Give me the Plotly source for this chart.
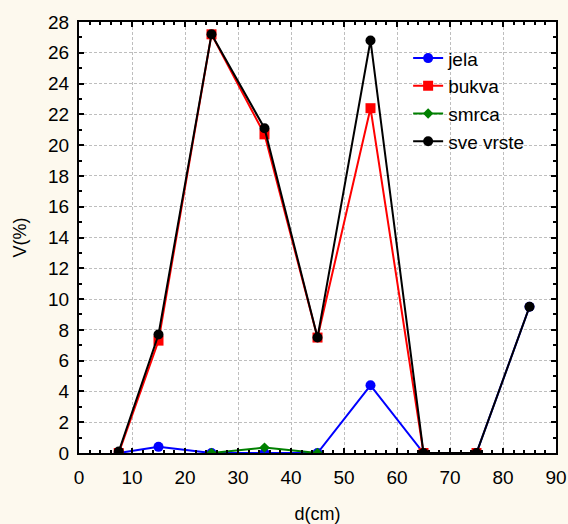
import plotly.graph_objects as go

d_cm = [7.5, 15, 25, 35, 45, 55, 65, 75, 85]
jela = [0.0, 0.4, 0.0, 0.0, 0.0, 4.4, 0.0, 0.0, 9.5]
bukva = [0.0, 7.3, 27.2, 20.7, 7.5, 22.4, 0.0, 0.0, None]
smrca = [None, None, 0.0, 0.35, 0.0, None, None, None, None]
sve_vrste = [0.1, 7.7, 27.2, 21.1, 7.5, 26.8, 0.0, 0.0, 9.5]

x_ticks = [0, 10, 20, 30, 40, 50, 60, 70, 80, 90]
y_ticks = list(range(0, 29, 2))

font = "Liberation Sans, Arial, sans-serif"
fig = go.Figure()
fig.add_trace(go.Scatter(x=d_cm, y=jela, name="jela", mode="lines+markers", legendgroup="a",
                         line=dict(color="#0000FF", width=2),
                         marker=dict(symbol="circle", size=10, color="#0000FF")))
fig.add_trace(go.Scatter(x=d_cm, y=bukva, name="bukva", mode="lines+markers", legendgroup="b",
                         line=dict(color="#FF0000", width=2),
                         marker=dict(symbol="square", size=10, color="#FF0000")))
fig.add_trace(go.Scatter(x=d_cm, y=smrca, name="smrca", mode="lines+markers", legendgroup="c",
                         line=dict(color="#008000", width=2),
                         marker=dict(symbol="diamond", size=8, color="#008000")))
fig.add_trace(go.Scatter(x=d_cm, y=sve_vrste, name="sve vrste", mode="lines+markers", legendgroup="d",
                         line=dict(color="#000000", width=2),
                         marker=dict(symbol="circle", size=10, color="#000000")))

axis_common = dict(
    showline=True, linecolor="black", linewidth=2, mirror="allticks",
    ticks="inside", ticklen=5, tickwidth=2, tickcolor="black",
    showgrid=True, gridcolor="#BEBEBE", griddash="3px,2px", gridwidth=1,
    zeroline=False, automargin=False,
    tickfont=dict(family=font, size=19, color="black"),
)
fig.update_xaxes(range=[0, 90], tickvals=x_ticks, ticklabelstandoff=6,
                 minor=dict(ticks="inside", dtick=2, ticklen=3, tickwidth=2, tickcolor="black", showgrid=False),
                 title=dict(text="d(cm)", font=dict(family=font, size=18, color="black"), standoff=22),
                 **axis_common)
fig.update_yaxes(range=[0, 28], tickvals=y_ticks, ticklabelstandoff=4,
                 minor=dict(ticks="inside", dtick=1, ticklen=3, tickwidth=2, tickcolor="black", showgrid=False),
                 title=dict(text="V(%)", font=dict(family=font, size=18, color="black"), standoff=17),
                 **axis_common)
fig.update_layout(
    width=568, height=524,
    margin=dict(l=79, r=12, t=22, b=71),
    paper_bgcolor="#FDF9EE", plot_bgcolor="white",
    font=dict(family=font, size=18, color="black"),
    showlegend=True,
    legend=dict(x=0.69, y=0.96, xanchor="left", yanchor="top",
                bgcolor="rgba(0,0,0,0)", font=dict(family=font, size=19),
                itemwidth=30, tracegroupgap=0),
)
fig.write_html("out.html", config={"displayModeBar": False},
               post_script="document.body.style.margin='0';document.body.style.background='#FDF9EE';")
